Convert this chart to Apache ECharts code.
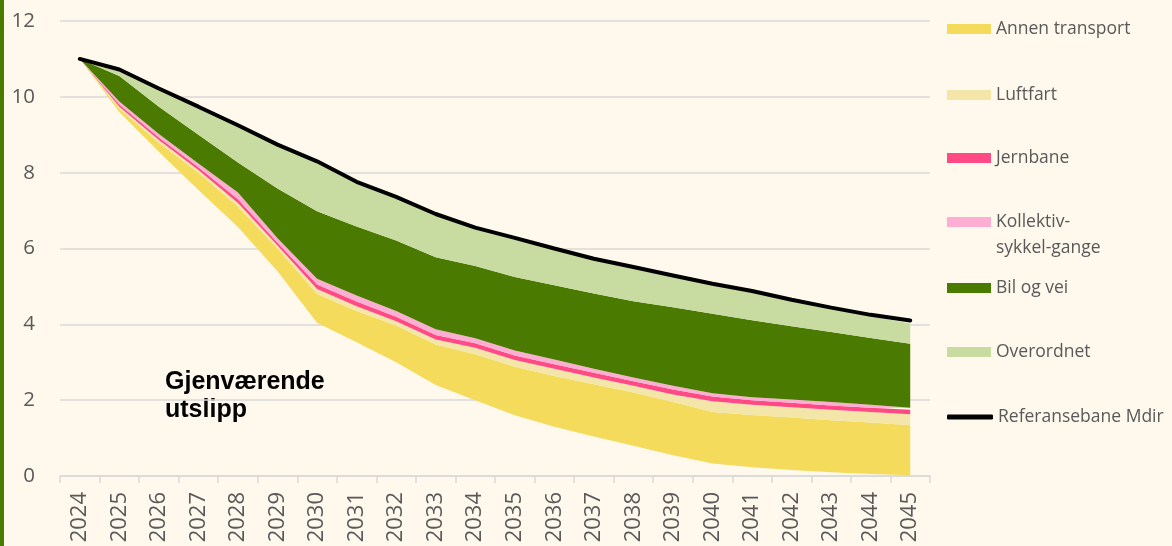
<!DOCTYPE html>
<html>
<head>
<meta charset="utf-8">
<script src="https://cdn.jsdelivr.net/npm/echarts@6/dist/echarts.min.js"></script>
<style>
html,body{margin:0;padding:0;background:#fef9ec;}
#c{width:1172px;height:546px;}
</style>
</head>
<body>
<div id="c"></div>
<script>
const years = ['2024','2025','2026','2027','2028','2029','2030','2031','2032','2033','2034','2035','2036','2037','2038','2039','2040','2041','2042','2043','2044','2045'];
const yTicks = [0,2,4,6,8,10,12];
const gjenvaerende = [11.0,9.6,8.55,7.54,6.57,5.4,4.04,3.53,3.0,2.4,2.0,1.6,1.3,1.04,0.8,0.55,0.33,0.23,0.16,0.1,0.05,0.02];
const annenTransport = [0,0.08,0.24,0.46,0.53,0.6,0.76,0.82,0.97,1.07,1.21,1.28,1.34,1.38,1.4,1.4,1.36,1.38,1.38,1.37,1.36,1.32];
const luftfart = [0,0.06,0.07,0.07,0.1,0.08,0.13,0.13,0.11,0.13,0.17,0.18,0.19,0.18,0.18,0.2,0.28,0.27,0.27,0.28,0.28,0.29];
const jernbane = [0,0.06,0.07,0.07,0.1,0.07,0.12,0.12,0.12,0.12,0.12,0.12,0.12,0.12,0.12,0.13,0.13,0.12,0.12,0.11,0.11,0.12];
const kollektiv = [0,0.08,0.09,0.1,0.18,0.12,0.15,0.16,0.15,0.15,0.13,0.13,0.12,0.11,0.1,0.1,0.08,0.08,0.09,0.09,0.08,0.05];
const bilOgVei = [0,0.67,0.72,0.76,0.79,1.31,1.78,1.82,1.86,1.9,1.91,1.94,1.96,1.98,2.01,2.07,2.1,2.03,1.93,1.85,1.76,1.69];
const overordnet = [0,0.11,0.44,0.7,0.94,1.12,1.28,1.14,1.11,1.1,0.97,0.99,0.93,0.88,0.86,0.8,0.75,0.73,0.66,0.6,0.57,0.53];
const referansebane = [11.0,10.72,10.22,9.74,9.25,8.74,8.3,7.76,7.36,6.91,6.55,6.28,6.0,5.73,5.51,5.29,5.07,4.88,4.65,4.44,4.25,4.1];

const names = ['Annen transport','Luftfart','Jernbane','Kollektiv-\nsykkel-gange','Bil og vei','Overordnet','Referansebane Mdir'];
const colors = ['#f4db5c','#f3e6a8','#ff4a86','#ffaed3','#4a7b00','#c8dca1','#000000'];
const values = [annenTransport,luftfart,jernbane,kollektiv,bilOgVei,overordnet];

const chart = echarts.init(document.getElementById('c'));
const FONT = '"Open Sans", Lato, sans-serif';

const series = [{
  name: 'Gjenværende utslipp', type: 'line', stack: 'tot', data: gjenvaerende,
  symbol: 'none', lineStyle: {width: 0, opacity: 0}, areaStyle: {opacity: 0}, silent: true
}];
values.forEach((v, i) => {
  series.push({
    name: names[i], type: 'line', stack: 'tot', data: v, symbol: 'none',
    color: colors[i], lineStyle: {width: 0, opacity: 0},
    areaStyle: {color: colors[i], opacity: 1}
  });
});
series.push({
  name: names[6], type: 'line', data: referansebane, symbol: 'none', color: '#000',
  lineStyle: {width: 4, color: '#000', cap: 'round'}, z: 5
});

const legendCenters = [29, 95, 158, 222, 288, 352, 417];
const legends = names.map((n, i) => {
  const isLine = i === 6;
  const lg = {
    data: [n], left: 947, orient: 'vertical', selectedMode: false, padding: 0,
    itemWidth: isLine ? 46 : 44, itemHeight: isLine ? 5 : 10,
    icon: isLine ? 'roundRect' : 'rect', itemGap: 0,
    textStyle: {fontFamily: FONT, fontSize: 17.5, color: '#595959', lineHeight: 26}
  };
  if (i === 3) {
    lg.icon = 'path://M0,0h44v10h-44z M0,36h0.01v0.01h-0.01z';
    lg.itemHeight = 36;
  }
  lg.top = legendCenters[i] - 13;
  return lg;
});

chart.setOption({
  animation: false,
  backgroundColor: '#fef9ec',
  grid: {left: 60, right: 242, top: 21, bottom: 70},
  legend: legends,
  xAxis: {
    type: 'category', data: years, boundaryGap: true,
    axisLine: {lineStyle: {color: '#d9d9d9', width: 1.5}},
    axisTick: {show: true, interval: 0, length: 7, lineStyle: {color: '#d9d9d9', width: 1.5}},
    axisLabel: {interval: 0, rotate: 90, fontFamily: FONT, fontSize: 22, color: '#595959', margin: 16}
  },
  yAxis: {
    type: 'value', min: yTicks[0], max: yTicks[yTicks.length-1], interval: 2,
    axisLine: {show: false}, axisTick: {show: false},
    splitLine: {lineStyle: {color: '#d9d9d9', width: 1.5}},
    axisLabel: {fontFamily: FONT, fontSize: 20.5, color: '#595959', margin: 25}
  },
  graphic: [
    {type: 'rect', left: 0, top: 0, shape: {width: 4, height: 546}, style: {fill: '#4a7b00'}},
    {type: 'text', left: 165, top: 368, style: {text: 'Gjenværende\nutslipp', font: 'bold 25px "Liberation Sans", Arial, sans-serif', fill: '#000', lineHeight: 28}}
  ],
  series: series
});
</script>
</body>
</html>
